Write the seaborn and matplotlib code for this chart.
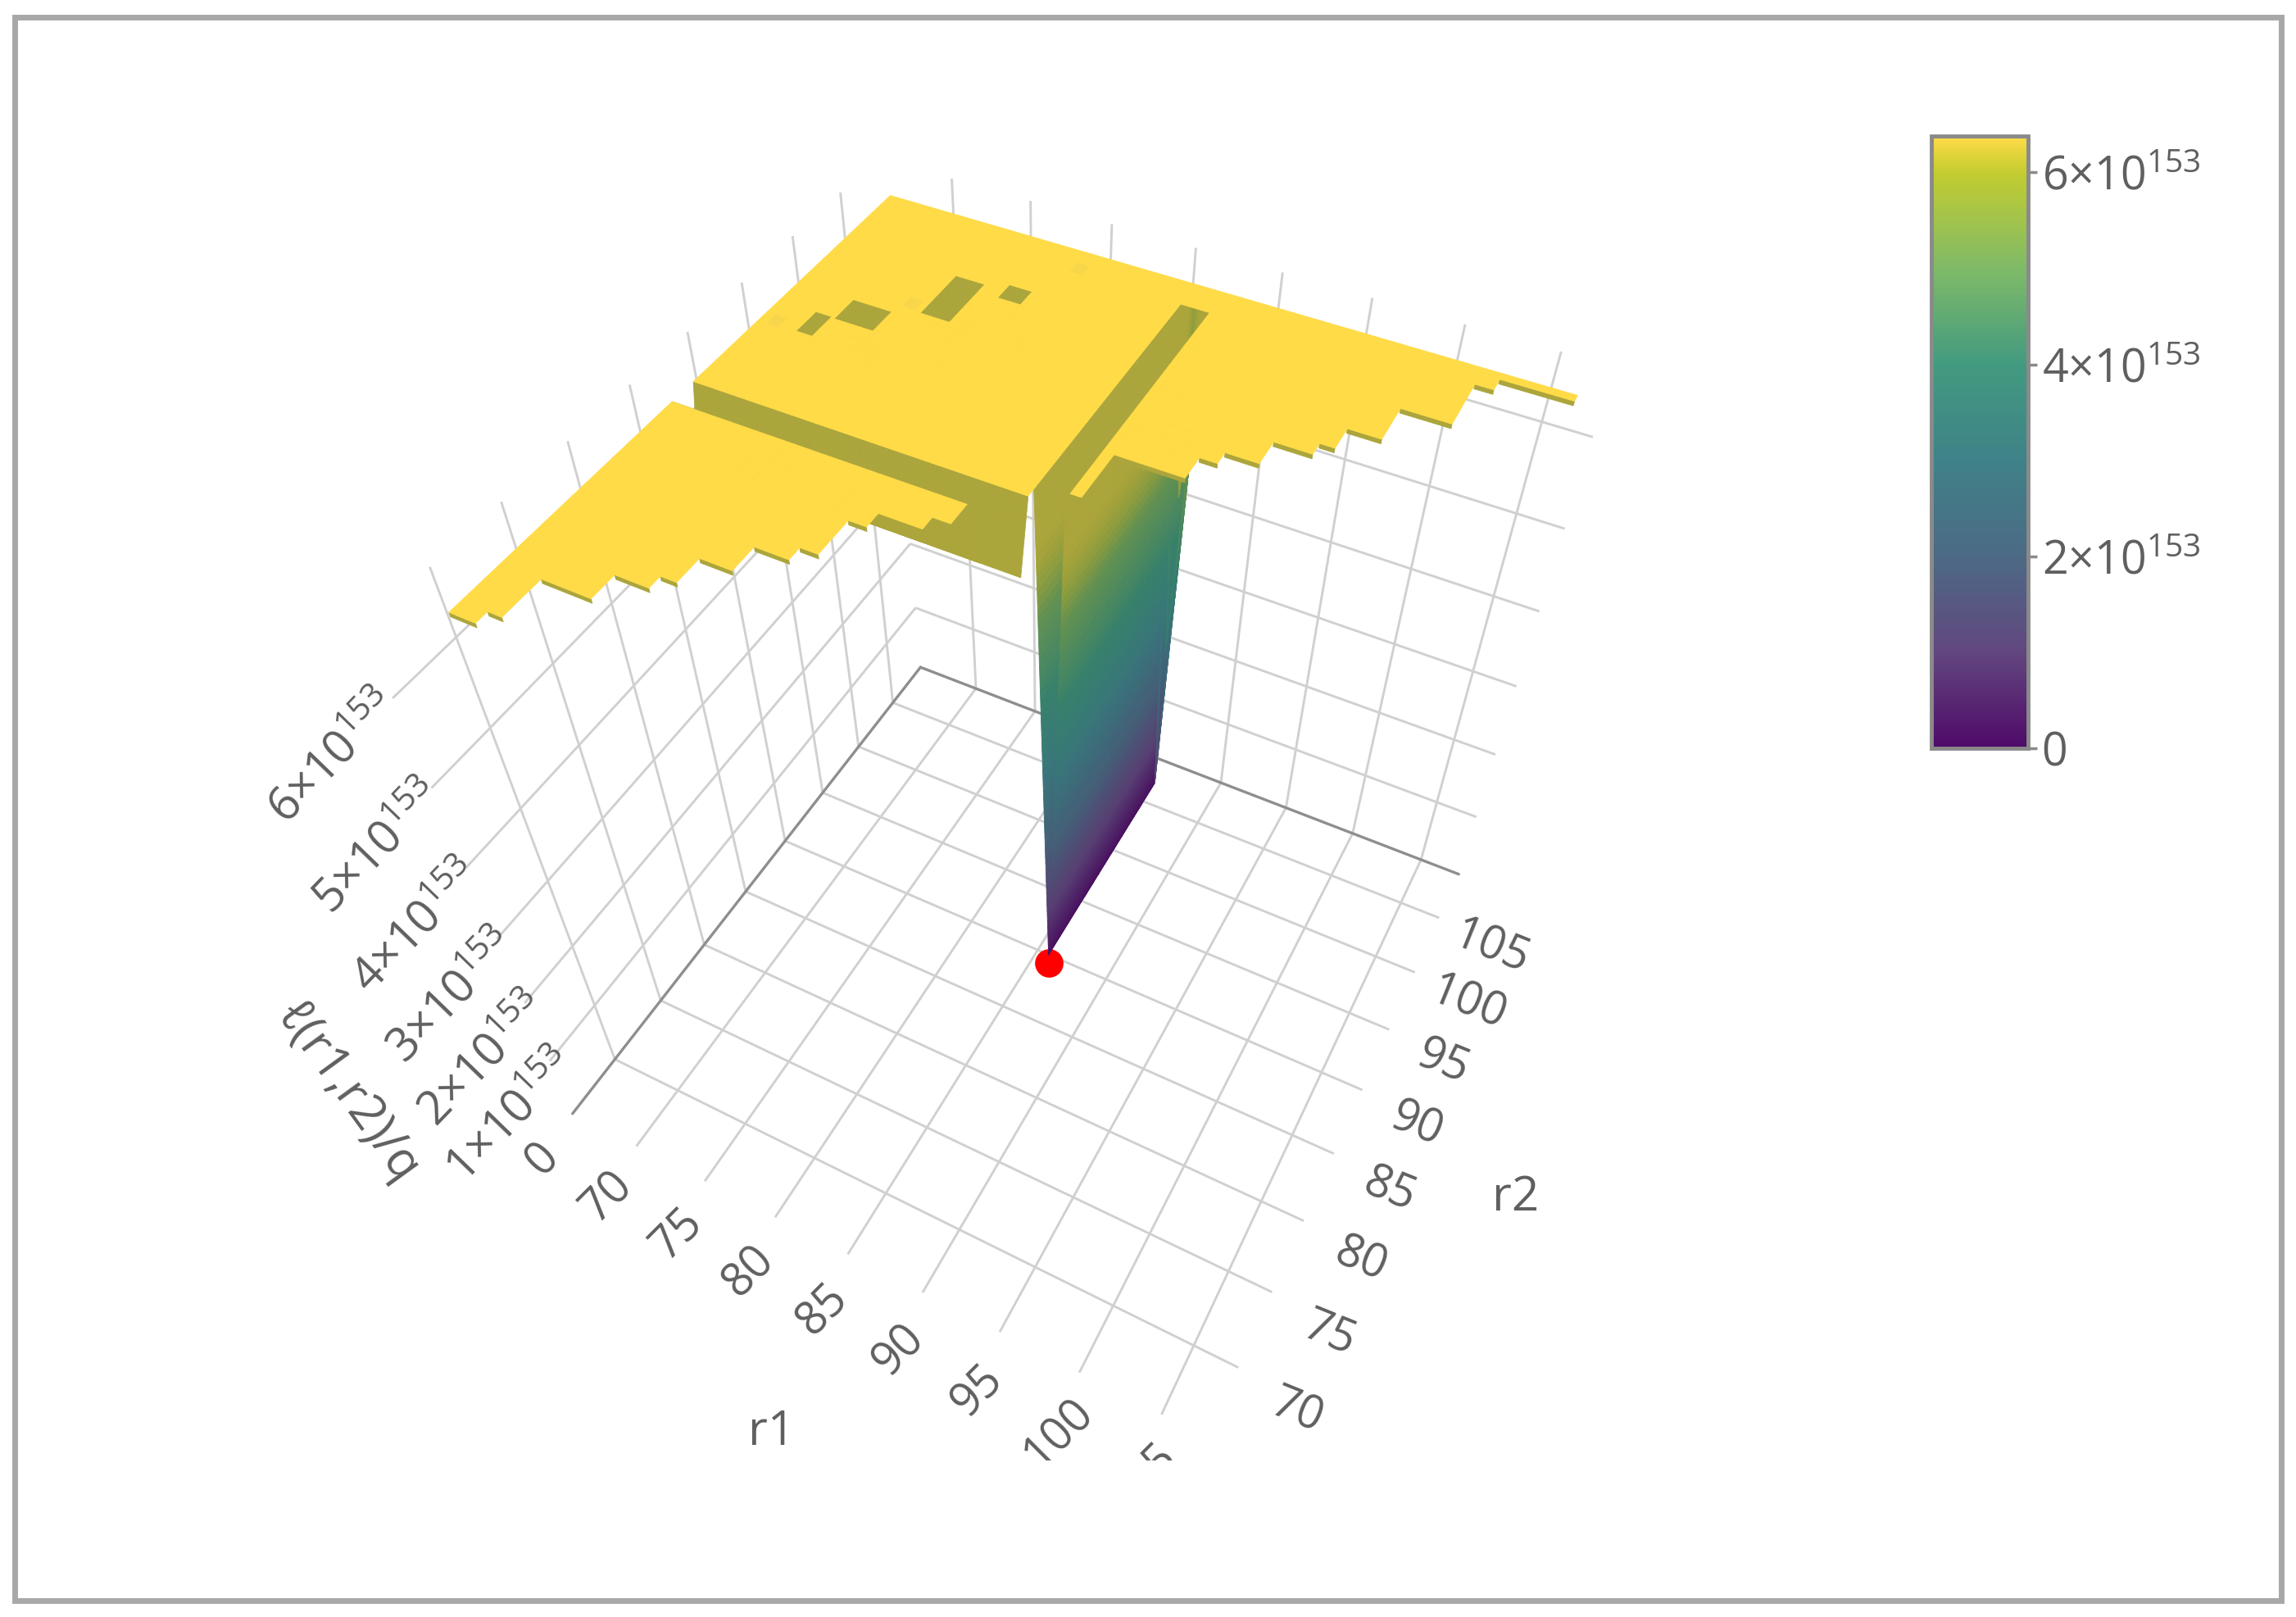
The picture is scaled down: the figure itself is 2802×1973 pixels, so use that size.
import numpy as np
import seaborn as sns
import matplotlib
matplotlib.use('Agg')
import matplotlib.pyplot as plt
from matplotlib.cm import ScalarMappable
from matplotlib.colors import LinearSegmentedColormap, Normalize, to_rgb
from matplotlib.patches import Rectangle
from matplotlib.transforms import Bbox
from mpl_toolkits.mplot3d.art3d import Poly3DCollection

W, H, SCALE = 2802, 1973, 2802 / 1568

# axis box (z is in units of 1e153)
r1_min, r1_max = 65.2, 107.7
r2_min, r2_max = 65.6, 109.2
z_top = 6.7
z_plateau = 6.38

r1_ticks = [70, 75, 80, 85, 90, 95, 100, 105]
r2_ticks = [70, 75, 80, 85, 90, 95, 100, 105]
z_ticks = [0, 1, 2, 3, 4, 5, 6]
bar_ticks = [0, 2, 4, 6]

# plateau outline: r1 breakpoints and the lowest r2 of each r1 strip
stair_r1 = [66.0, 67.5, 68.3, 71.1, 73.0, 73.9, 75.7, 77.6, 78.6, 79.6, 82.0, 83.0, 85.3,
            86.1, 87.0, 87.6, 91.4, 92.35, 94.15, 96.2, 97.0, 98.8, 101.5, 102.5, 106.4]
stair_r2 = [69.5, 70.35, 73.2, 75.0, 75.9, 77.75, 79.6, 80.55, 83.25, 84.35, 85.3, 87.9,
            89.4, 89.4, 89.9, 93.55, 95.3, 96.25, 98.15, 99.1, 100.85, 103.65, 107.35, 108.35]
r2_back = 108.9

# shallow trench along r1
trench_r2 = [86.9, 87.9, 88.8]
trench_z = 5.65
# deep trench along r2, down to the minimum
gorge_r1 = 86.1
gorge_r2 = [89.4, 106.2, 108.0]
gorge_z = 0.15
minimum = (86.1, 89.4, 0.0)

# small dips in the plateau
pit_r1 = [(69.5, 71.9), (73.3, 75.1), (76.3, 77.7), (68.3, 69.3), (72.1, 72.9), (78.6, 79.4), (66.5, 67.3)]
pit_r2 = [(96.9, 98.9), (99.5, 103.5), (102.7, 104.1), (95.0, 97.0), (99.6, 100.6), (106.8, 107.8), (94.8, 95.8)]
pit_z = [5.8, 5.8, 5.8, 5.8, 6.25, 6.25, 6.25]

bar_z = [0, 1, 2, 3, 4, 5, 6, 6.38]
bar_colors = ['#4f0a68', '#62477f', '#4c6a85', '#3f8288', '#429a80', '#7fba68', '#c2cc30', '#ffdb47']

# camera calibration: box points and where they sit in the 1568 wide view
cam_world = [(r1_min, r2_max, 0), (r1_min, r2_max, 1), (70, r2_max, 0), (75, r2_max, 0), (105, r2_max, 0),
             (r1_min, 105, 0), (r1_min, 90, 0), (r1_min, 70, 0), (70, 70, 0), (105, 70, 0), (105, 105, 0),
             (r1_min, 70, 2), (r1_min, 70, 4), (r1_min, 70, 5), (r1_min, 70, z_top), (r1_min, 105, z_top),
             (70, r2_max, z_top), (105, r2_max, z_top)]
cam_view = [(628, 452), (625, 411), (667, 472), (708, 485), (970, 582), (608, 484), (537, 578), (421, 724),
            (466, 746), (815, 919), (955, 621), (390, 642), (354, 549), (333, 494), (293, 391), (573, 133),
            (652, 123), (1068, 240)]


def fit_camera(world, view):
    tw = np.array([[1 / 22, 0, 0, -87 / 22], [0, 1 / 22, 0, -87 / 22], [0, 0, 1 / 3.5, -1], [0, 0, 0, 1]])
    ti = np.array([[400, 0, 700], [0, 400, 700], [0, 0, 1]])
    pts = (tw @ np.c_[np.array(world, float), np.ones(len(world))].T).T
    img = (np.array(view, float) - 700) / 400
    rows = []
    for p, (u, v) in zip(pts, img):
        rows.append(np.r_[p, 0, 0, 0, 0, -u * p])
        rows.append(np.r_[0, 0, 0, 0, p, -v * p])
    cam = ti @ np.linalg.svd(np.array(rows))[2][-1].reshape(3, 4) @ tw
    if cam[2] @ np.array([87, 87, 3, 1]) < 0:
        cam = -cam
    return cam / cam[2, 3]


sns.set_theme(style='white')
plt.rcParams['font.family'] = ['Open Sans', 'DejaVu Sans']
plt.rcParams['mathtext.fontset'] = 'custom'
plt.rcParams['mathtext.rm'] = 'Open Sans'
plt.rcParams['mathtext.default'] = 'rm'
TEXT = '#5f5f5f'

norm = Normalize(0, z_plateau)
cmap = LinearSegmentedColormap.from_list('bar', list(zip(norm(bar_z), bar_colors)), N=256)
camera = fit_camera(cam_world, cam_view)
view_to_display = np.array([[SCALE, 0, 0], [0, -SCALE, H], [0, 0, 1]])

fig = plt.figure(figsize=(W / 100, H / 100), dpi=100, facecolor='white')
ax = fig.add_axes([0, 0, 1, 1], projection='3d')
ax.set_axis_off()
ax.computed_zorder = False


def get_proj():
    # view coordinates -> axes data coordinates, depth grows away from the camera
    h = ax.transData.inverted().get_matrix() @ view_to_display @ camera
    h = h / h[2, 3]
    return np.array([h[0], h[1], [0, 0, 0, -1], h[2]])


ax.get_proj = get_proj


def to_fig(x, y, z):
    p = view_to_display @ camera @ np.array([x, y, z, 1.0])
    return p[0] / p[2] / W, p[1] / p[2] / H


def sci(v):
    return '0' if v == 0 else rf'$\mathdefault{{{v}{{\times}}10^{{153}}}}$'


olive = np.array(to_rgb('#aba53c'))


def wall_color(z):
    # steep faces catch less light than the flat top and go olive near the rim
    base = np.array(cmap(norm(min(z, 5.8)))[:3]) * np.interp(z, [0, 3, 5], [0.9, 0.9, 0.78])
    t = np.clip((z - 5.0) / 0.8, 0, 1)
    return (1 - t) * base + t * olive


# mesh nodes
r1_nodes = set(stair_r1) | {gorge_r1}
r2_nodes = set(stair_r2) | set(trench_r2) | set(gorge_r2) | {r2_back}
for lo, hi in pit_r1:
    r1_nodes |= {lo, hi, (lo + hi) / 2}
for lo, hi in pit_r2:
    r2_nodes |= {lo, hi, (lo + hi) / 2}
r1_nodes = np.array(sorted(r1_nodes))
r2_nodes = np.array(sorted(r2_nodes))

z_nodes = np.full((len(r1_nodes), len(r2_nodes)), z_plateau)
z_nodes[np.ix_(r1_nodes <= stair_r1[12], r2_nodes == trench_r2[1])] = trench_z
z_nodes[np.ix_(r1_nodes == gorge_r1, (r2_nodes >= gorge_r2[0]) & (r2_nodes <= gorge_r2[1]))] = gorge_z
for (a, b), (c, d), zb in zip(pit_r1, pit_r2, pit_z):
    z_nodes[np.ix_((r1_nodes > a) & (r1_nodes < b), (r2_nodes > c) & (r2_nodes < d))] = zb

top_faces, wall_faces, wall_colors = [], [], []
for i in range(len(r1_nodes) - 1):
    strip = np.searchsorted(stair_r1, r1_nodes[i], side='right') - 1
    for j in range(len(r2_nodes) - 1):
        if r2_nodes[j] < stair_r2[strip]:
            continue
        x0, x1, y0, y1 = r1_nodes[i], r1_nodes[i + 1], r2_nodes[j], r2_nodes[j + 1]
        zz = z_nodes[i:i + 2, j:j + 2]
        if np.all(zz == z_plateau):
            top_faces.append([(x0, y0, z_plateau), (x1, y0, z_plateau), (x1, y1, z_plateau), (x0, y1, z_plateau)])
            continue
        # split the sloped cells so the colour runs smoothly down them
        nu, nv = (64, 3) if zz.min() < 3 else (8, 2)
        us, vs = np.linspace(0, 1, nu + 1), np.linspace(0, 1, nv + 1)
        for a in range(nu):
            for b in range(nv):
                quad = []
                for u, v in ((us[a], vs[b]), (us[a + 1], vs[b]), (us[a + 1], vs[b + 1]), (us[a], vs[b + 1])):
                    zv = (zz[0, 0] * (1 - u) * (1 - v) + zz[1, 0] * u * (1 - v)
                          + zz[0, 1] * (1 - u) * v + zz[1, 1] * u * v)
                    quad.append((x0 + (x1 - x0) * u, y0 + (y1 - y0) * v, zv))
                zm = np.mean([q[2] for q in quad])
                wall_faces.append(quad)
                if zz.min() >= 6.1:
                    wall_colors.append(np.array(to_rgb('#f8d64a')))
                else:
                    wall_colors.append(wall_color(zm))

# thin lip under the stair edges of the plateau
for i, low in enumerate(stair_r2):
    if 83.0 <= stair_r1[i] < 87.6:
        continue
    a, b = stair_r1[i], stair_r1[i + 1]
    wall_faces.append([(a, low, z_plateau), (b, low, z_plateau), (b, low, z_plateau - 0.045), (a, low, z_plateau - 0.045)])
    wall_colors.append(olive)

# grid on the floor and the two back walls
GRID = dict(color='#d0d0d0', lw=2.1, zorder=1, solid_capstyle='butt')
for v in r1_ticks:
    ax.plot([v, v], [r2_min, r2_max], [0, 0], **GRID)
    ax.plot([v, v], [r2_max, r2_max], [0, z_top], **GRID)
for v in r2_ticks:
    ax.plot([r1_min, r1_max], [v, v], [0, 0], **GRID)
    ax.plot([r1_min, r1_min], [v, v], [0, z_top], **GRID)
for v in z_ticks[1:]:
    ax.plot([r1_min, r1_min], [r2_min, r2_max], [v, v], **GRID)
    ax.plot([r1_min, r1_max], [r2_max, r2_max], [v, v], **GRID)
EDGE = dict(color='#8e8e8e', lw=2.4, zorder=1)
ax.plot([r1_min, r1_min], [r2_min, r2_max], [0, 0], **EDGE)
ax.plot([r1_min, r1_max], [r2_max, r2_max], [0, 0], **EDGE)

ax.plot([minimum[0]], [minimum[1]], [minimum[2]], 'o', color='#ff0000', ms=25, mew=0, zorder=2)

walls = Poly3DCollection(wall_faces, facecolors=wall_colors, edgecolors=wall_colors, linewidths=0.6, zorder=3)
ax.add_collection3d(walls, autolim=False)
top = Poly3DCollection(top_faces, facecolors='#ffdb47', edgecolors='#ffdb47', linewidths=0.6, zorder=4)
ax.add_collection3d(top, autolim=False)

# tick labels sit just outside the box; the scene cuts them off at its lower edge
scene_clip = Bbox([[0, H - 1782], [W, H]])
LABEL = dict(color=TEXT, fontsize=40, ha='center', va='center', rotation_mode='anchor')
for v in r1_ticks:
    x, y = to_fig(v + 0.5, 62.0, 0)
    t = fig.text(x, y, str(v), rotation=45, **LABEL)
    t.set_clip_box(scene_clip)
    t.set_clip_on(True)
for v in r2_ticks:
    x, y = to_fig(111.5, v - 0.8, 0)
    fig.text(x, y, str(v), rotation=-22, **LABEL)
x, y = to_fig(r1_min, r2_min - 3.2, -0.1)
fig.text(x, y, '0', rotation=46, **LABEL)
for v in z_ticks[1:]:
    x, y = to_fig(r1_min, r2_min - 0.1 + 0.27 * (6 - v), v - 0.05 * (6 - v))
    fig.text(x, y, sci(v), rotation=46, color=TEXT, fontsize=41, ha='right', va='center', rotation_mode='anchor')

fig.text(527 * SCALE / W, 1 - 978 * SCALE / H, 'r1', color=TEXT, fontsize=42, ha='center', va='center')
fig.text(1035 * SCALE / W, 1 - 818 * SCALE / H, 'r2', color=TEXT, fontsize=42, ha='center', va='center')
fig.text(424 / W, 1 - 1333 / H, 'ℓ(r1,r2)/q', color=TEXT, fontsize=43, rotation=-54,
         ha='center', va='center', rotation_mode='anchor')

# colour bar
cax = fig.add_axes([2357 / W, 1 - 913 / H, 118 / W, 747 / H])
bar = fig.colorbar(ScalarMappable(norm=norm, cmap=cmap), cax=cax, ticks=bar_ticks)
bar.outline.set_edgecolor('#8a8a8a')
bar.outline.set_linewidth(3.5)
cax.set_yticklabels([sci(v) for v in bar_ticks])
cax.tick_params(axis='y', length=8, width=2.5, color='#8a8a8a', labelcolor=TEXT, labelsize=40, pad=4, right=True)

# outer frame of the screenshot
fig.add_artist(Rectangle((17.5 / W, 1 - 1952.5 / H), (2784 - 17.5) / W, (1952.5 - 21) / H,
                         transform=fig.transFigure, fill=False, ec='#a8a8a8', lw=5))

fig.savefig('out.png', dpi=100, facecolor='white')
